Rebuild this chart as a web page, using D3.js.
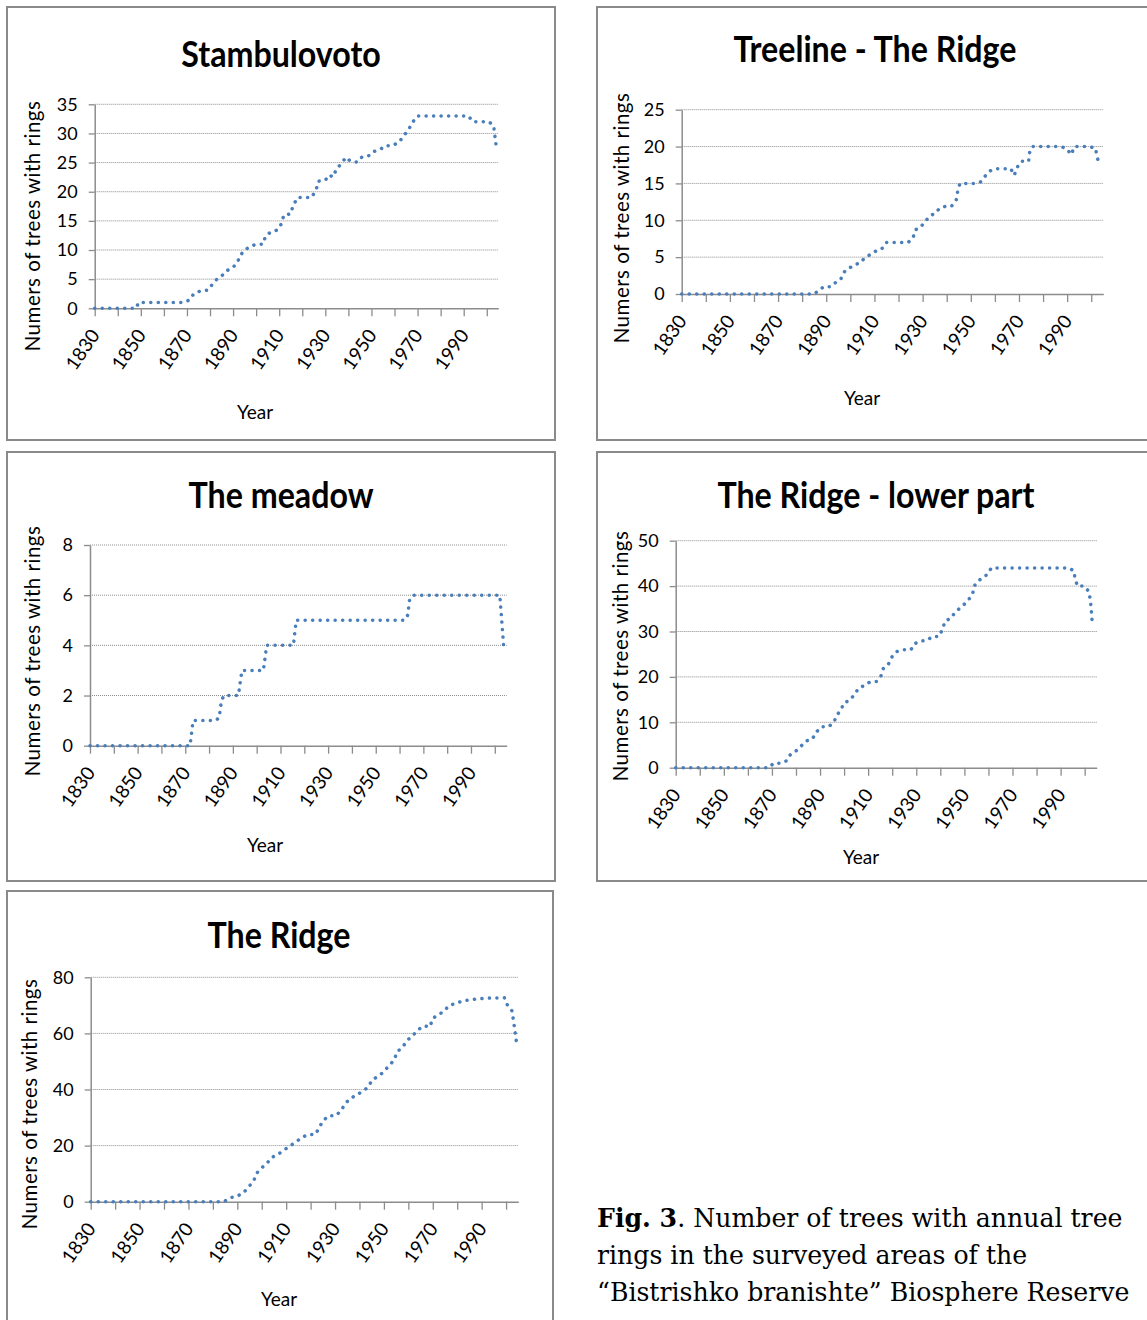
<!DOCTYPE html>
<html lang="en">
<meta charset="utf-8">
<head>
<script src="https://d3js.org/d3.v7.min.js"></script>
<style>
  body { margin: 0; background: #fff; }
  svg text { font-family: Lato, "Open Sans", sans-serif; fill: #000; }
</style>
</head>
<body>
<div id="fig"></div>
<script>

// Stambulovoto
var years1 = [1830, 1848, 1849, 1868, 1871, 1873, 1876, 1879, 1881, 1883, 1885, 1887, 1890, 1892, 1893, 1895, 1897, 1900, 1903, 1904, 1906, 1909, 1911, 1912, 1915, 1916, 1918, 1924, 1926, 1927, 1930, 1932, 1933, 1935, 1937, 1939, 1941, 1944, 1946, 1949, 1951, 1954, 1956, 1959, 1962, 1964, 1966, 1968, 1970, 1992, 1994, 2001, 2003, 2004];
var count1 = [0, 0, 1, 1, 1.4, 2.5, 3, 3.1, 4.1, 5, 5.5, 6.4, 7, 8, 9, 10, 10.5, 11, 11, 12.3, 13, 13.4, 14.5, 16, 16.2, 17.6, 19, 19, 20.3, 21.8, 22, 22.9, 22.5, 23.9, 24.9, 25.9, 25.2, 25.1, 26, 26.2, 26.9, 27.3, 27.9, 27.9, 28.5, 29.6, 30.6, 32, 33, 33, 32, 32, 31.3, 28.1];

// Treeline - The Ridge
var years2 = [1830, 1885, 1887, 1889, 1892, 1894, 1896, 1897.5, 1899.5, 1902, 1904, 1906, 1908.5, 1911, 1913, 1915, 1924, 1926, 1927, 1929, 1931, 1933, 1935, 1937, 1939.5, 1942, 1944, 1944.6, 1945.5, 1951.6, 1954, 1956, 1958, 1960.6, 1966.6, 1968, 1969.3, 1971, 1974, 1974.3, 1975.5, 1987.7, 1990, 1991.7, 1993, 1999, 2001.7, 2002.4, 2003.3];
var count2 = [0, 0, 0.5, 1, 1, 1.6, 2, 3, 3.5, 4, 4.2, 4.9, 5.4, 5.9, 6.1, 7, 7, 7.6, 8.7, 9, 9.8, 10.6, 10.9, 11.6, 11.9, 11.9, 12.8, 14, 15, 15, 15.2, 16, 16.7, 17, 17, 16.1, 17.2, 18, 18, 19.1, 20, 20, 19.6, 18.9, 20, 20, 19.8, 18.7, 17.5];

// The meadow
var years3 = [1830, 1872, 1873.3, 1882.4, 1884.2, 1885.2, 1886.3, 1892.3, 1893.8, 1902.8, 1904.2, 1915.4, 1916.6, 1962, 1963.4, 1964.2, 1965.8, 2002.1, 2003.7];
var count3 = [0, 0, 1, 1, 1.1, 1.8, 2, 2, 3, 3, 4, 4, 5, 5, 5.2, 5.8, 6, 6, 4];

// The Ridge - lower part
var years4 = [1830, 1868.8, 1870.7, 1873.5, 1876, 1877.8, 1880, 1882, 1884.3, 1886.8, 1888.4, 1890.5, 1893.5, 1895.6, 1897, 1898.8, 1900, 1902.2, 1904.2, 1906, 1908.4, 1910.8, 1913.5, 1915.3, 1916.4, 1918.5, 1920, 1922, 1924.7, 1927.8, 1929.3, 1931.5, 1934.4, 1936.7, 1939.5, 1940.9, 1942, 1944.3, 1946, 1947.8, 1949.8, 1951.6, 1953.4, 1954.1, 1955.6, 1957.8, 1959.8, 1961.2, 1993.3, 1995.4, 1996.1, 1997, 1999.8, 2001.6, 2002.3, 2002.7, 2003.2];
var count4 = [0, 0, 1, 1, 1.5, 3, 3.7, 4.7, 5.9, 6.3, 7.8, 9, 9, 9.9, 11.5, 12.9, 14.3, 14.8, 16, 17.5, 18.1, 18.9, 19, 20.2, 22, 22.9, 24.5, 25.6, 26, 26, 27.3, 27.9, 28, 28.9, 28.9, 30.5, 32.3, 32.9, 34.1, 35, 35.9, 36.9, 38.2, 40, 41.1, 41.9, 42.7, 44, 44, 43.4, 41.5, 40, 40, 38.9, 37.2, 35.2, 31.4];

// The Ridge
var years5 = [1830, 1884.5, 1887, 1889.7, 1892.3, 1894.6, 1896.7, 1898, 1900, 1902, 1904, 1907, 1909, 1911, 1914, 1916.3, 1919, 1922, 1923.4, 1925, 1927.2, 1930.2, 1932.4, 1934, 1936, 1938.6, 1941, 1943.5, 1945.2, 1947.6, 1949.8, 1952, 1954.2, 1955.4, 1957.6, 1959.5, 1961.8, 1963.7, 1966.3, 1968.8, 1970, 1972.5, 1974.9, 1976.7, 1979.5, 1982.3, 1985, 1988, 1993.4, 1999.3, 2000.6, 2002.4, 2003, 2003.5, 2004, 2004.5];
var count5 = [0, 0, 1.4, 1.9, 3, 5.2, 7.4, 10.2, 12.1, 13.5, 15.7, 17.1, 18.3, 19.6, 21.3, 22.8, 24, 24, 26.3, 28.7, 30.6, 30.6, 32.4, 34.7, 36.7, 37.9, 39.2, 40.8, 43.4, 44.7, 46.2, 48.4, 50.5, 53.5, 55, 57.5, 59.2, 61.1, 62.7, 62.3, 65.4, 66.7, 68.2, 70, 70.7, 71.6, 71.9, 72.3, 72.6, 72.7, 70, 68, 64.8, 61.7, 58.5, 55.4];

var titles = ["Stambulovoto", "Treeline - The Ridge", "The meadow", "The Ridge - lower part", "The Ridge"];
var yTicks1 = [0, 5, 10, 15, 20, 25, 30, 35];
var yTicks2 = [0, 5, 10, 15, 20, 25];
var yTicks3 = [0, 2, 4, 6, 8];
var yTicks4 = [0, 10, 20, 30, 40, 50];
var yTicks5 = [0, 20, 40, 60, 80];
var xTickYears = [1830, 1840, 1850, 1860, 1870, 1880, 1890, 1900, 1910, 1920, 1930, 1940, 1950, 1960, 1970, 1980, 1990, 2000];
var xLabelYears = [1830, 1850, 1870, 1890, 1910, 1930, 1950, 1970, 1990];
var xEnd = 2005;

var yTitle = "Numers of trees with rings";
var xTitle = "Year";

// layout: panel box, plot area (left, top, right, bottom), title baseline, axis title spots
var layout = [
  {box: [7, 7, 548, 433],  plot: [94.7, 104.3, 498.3, 308.3],  title: [281, 67],  ytl: [40, 226],  xtl: [255, 419]},
  {box: [597, 7, 560, 433], plot: [681.7, 109.7, 1103.3, 294], title: [875, 62],  ytl: [629, 218], xtl: [862, 405]},
  {box: [7, 452, 548, 429], plot: [90, 545, 506.7, 745.7],     title: [281, 508], ytl: [40, 651],  xtl: [265, 852]},
  {box: [597, 452, 560, 429], plot: [675.7, 540.7, 1096.7, 767.7], title: [876, 508], ytl: [628, 656], xtl: [861, 864]},
  {box: [7, 891, 546, 440], plot: [90.7, 977.3, 518.3, 1201.7], title: [279, 948], ytl: [37, 1104], xtl: [279, 1306]}
];

var allYears = [years1, years2, years3, years4, years5];
var allCounts = [count1, count2, count3, count4, count5];
var allYTicks = [yTicks1, yTicks2, yTicks3, yTicks4, yTicks5];

var svg = d3.select("#fig").append("svg")
  .attr("width", 1147)
  .attr("height", 1320);

function drawChart(i) {
  var L = layout[i];
  var p = L.plot;
  var yt = allYTicks[i];

  // panel frame
  svg.append("rect")
    .attr("x", L.box[0]).attr("y", L.box[1])
    .attr("width", L.box[2]).attr("height", L.box[3])
    .attr("fill", "none")
    .attr("stroke", "#8a8a8a")
    .attr("stroke-width", 2);

  var x = d3.scaleLinear().domain([xTickYears[0], xEnd]).range([p[0], p[2]]);
  var y = d3.scaleLinear().domain([0, yt[yt.length - 1]]).range([p[3], p[1]]);

  // gridlines
  svg.append("g").selectAll("line")
    .data(yt.slice(1))
    .enter().append("line")
      .attr("x1", p[0]).attr("x2", p[2])
      .attr("y1", d => y(d)).attr("y2", d => y(d))
      .attr("stroke", "#8c8c8c")
      .attr("stroke-width", 1)
      .attr("stroke-dasharray", "1 1");

  // y axis
  var ya = svg.append("g")
    .attr("transform", "translate(" + p[0] + ",0)")
    .call(d3.axisLeft(y).tickValues(yt).tickSize(6).tickSizeOuter(0).tickPadding(11));
  ya.select(".domain").attr("stroke", "#8c8c8c").attr("stroke-width", 1.5);
  ya.selectAll(".tick line").attr("stroke", "#8c8c8c").attr("stroke-width", 1.3);
  ya.selectAll(".tick text").style("font-size", "18px").attr("fill", "#000");

  // x axis
  var xa = svg.append("g")
    .attr("transform", "translate(0," + p[3] + ")")
    .call(d3.axisBottom(x).tickValues(xTickYears).tickSize(8).tickSizeOuter(0).tickFormat(""));
  xa.select(".domain").attr("stroke", "#8c8c8c").attr("stroke-width", 1.5);
  xa.selectAll(".tick line").attr("stroke", "#8c8c8c").attr("stroke-width", 1.3);

  svg.append("g").selectAll("text")
    .data(xLabelYears)
    .enter().append("text")
      .attr("transform", d => "translate(" + (x(d) + 6) + "," + (p[3] + 27) + ") rotate(-55)")
      .attr("text-anchor", "end")
      .style("font-size", "19px")
      .text(d => d);

  // series
  var pts = allYears[i].map((yr, k) => [yr, allCounts[i][k]]);
  var line = d3.line().x(d => x(d[0])).y(d => y(d[1]));
  svg.append("path")
    .datum(pts)
    .attr("d", line)
    .attr("fill", "none")
    .attr("stroke", "#4a7ebb")
    .attr("stroke-width", 3.5)
    .attr("stroke-linecap", "round")
    .attr("stroke-linejoin", "round")
    .attr("stroke-dasharray", "0.1 7.4");

  // titles (narrowed to look like the original condensed face)
  svg.append("text")
    .attr("transform", "translate(" + L.title[0] + "," + L.title[1] + ") scale(0.87,1)")
    .attr("text-anchor", "middle")
    .style("font-size", "37px")
    .style("font-weight", "bold")
    .text(titles[i]);

  svg.append("text")
    .attr("transform", "translate(" + L.ytl[0] + "," + L.ytl[1] + ") rotate(-90)")
    .attr("text-anchor", "middle")
    .style("font-size", "20.5px")
    .style("letter-spacing", "0.5px")
    .text(yTitle);

  svg.append("text")
    .attr("x", L.xtl[0]).attr("y", L.xtl[1])
    .attr("text-anchor", "middle")
    .style("font-size", "19px")
    .text(xTitle);
}

for (var i = 0; i < 5; i++) drawChart(i);

// caption
var serif = "'DejaVu Serif', serif";
var capSize = "25.2px";
var cap = svg.append("g");
var l1 = cap.append("text").attr("x", 597).attr("y", 1227).style("font-family", serif).style("font-size", capSize);
l1.append("tspan").style("font-weight", "bold").text("Fig. 3");
l1.append("tspan").text(". Number of trees with annual tree");
cap.append("text").attr("x", 597).attr("y", 1264).style("font-family", serif).style("font-size", capSize).text("rings in the surveyed areas of the");
cap.append("text").attr("x", 597).attr("y", 1301).style("font-family", serif).style("font-size", capSize).text("\u201cBistrishko branishte\u201d Biosphere Reserve");

</script>
</body>
</html>
